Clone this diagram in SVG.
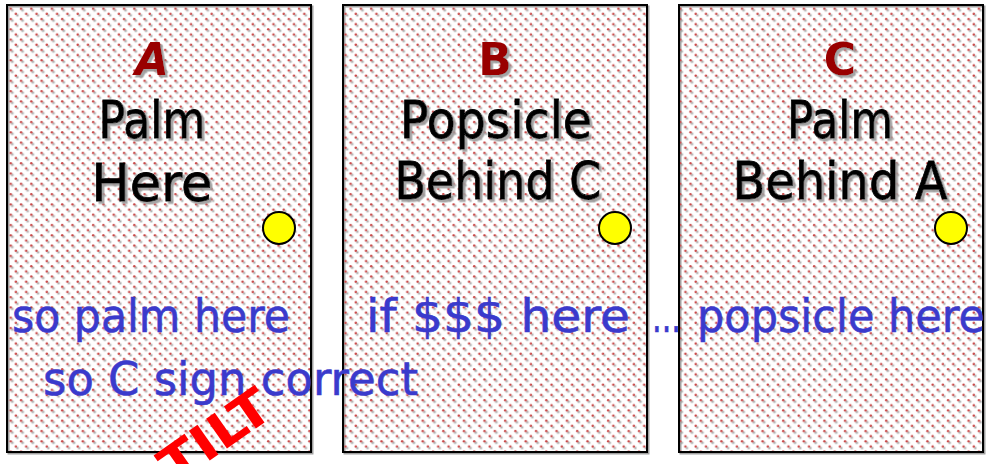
<svg xmlns="http://www.w3.org/2000/svg" width="989" height="464" viewBox="0 0 989 464">
  <defs>
    <pattern id="dots" x="3" y="1" width="10.3" height="10.3" patternUnits="userSpaceOnUse">
      <circle cx="2.6" cy="2.6" r="1.25" fill="#c84848"/>
      <circle cx="7.75" cy="7.75" r="1.25" fill="#c84848"/>
    </pattern>
    <filter id="shadow" x="-10%" y="-10%" width="130%" height="130%">
      <feDropShadow dx="2.5" dy="2.5" stdDeviation="0.6" flood-color="#9a9a9a" flood-opacity="0.9"/>
    </filter>
    <filter id="boxshadow" x="-5%" y="-5%" width="110%" height="110%">
      <feDropShadow dx="1.5" dy="1.5" stdDeviation="0.4" flood-color="#888" flood-opacity="0.8"/>
    </filter>
  </defs>
  <style>
    .panel { fill: url(#dots); stroke: #000; stroke-width: 2; }
    .title { font-family: "DejaVu Sans", "Liberation Sans", sans-serif; font-weight: bold; font-size: 44px; fill: #990000; text-anchor: middle; filter: url(#shadow); }
    .main { font-family: "DejaVu Sans", "Liberation Sans", sans-serif; font-size: 51px; fill: #000; text-anchor: middle; filter: url(#shadow); stroke: #000; stroke-width: 0.8; }
    .coin { fill: #ffff00; stroke: #000; stroke-width: 2; }
    .note { font-family: "DejaVu Sans", "Liberation Sans", sans-serif; font-size: 47px; fill: #3a3acc; stroke: #3a3acc; stroke-width: 0.6; }
    .tilt { font-family: "DejaVu Sans", "Liberation Sans", sans-serif; font-weight: bold; font-size: 50px; fill: #ff0000; text-anchor: middle; }
  </style>
  <rect width="989" height="464" fill="#ffffff"/>

  <g id="panel-A">
    <rect x="7" y="5" width="304" height="447" fill="#ffffff"/>
    <rect class="panel" x="7" y="5" width="304" height="447" filter="url(#boxshadow)"/>
    <text class="title" x="152" y="75" font-style="italic">A</text>
    <text class="main" x="152" y="138" textLength="107" lengthAdjust="spacingAndGlyphs">Palm</text>
    <text class="main" x="152" y="201" textLength="121" lengthAdjust="spacingAndGlyphs">Here</text>
    <circle class="coin" cx="279" cy="228" r="16"/>
  </g>

  <g id="panel-B">
    <rect class="panel" x="343" y="5" width="304" height="447" filter="url(#boxshadow)"/>
    <text class="title" x="495" y="75">B</text>
    <text class="main" x="496" y="138" textLength="192" lengthAdjust="spacingAndGlyphs">Popsicle</text>
    <text class="main" x="498" y="199" textLength="207" lengthAdjust="spacingAndGlyphs">Behind C</text>
    <circle class="coin" cx="615" cy="228" r="16"/>
  </g>

  <g id="panel-C">
    <rect class="panel" x="679" y="5" width="304" height="447" filter="url(#boxshadow)"/>
    <text class="title" x="840" y="75">C</text>
    <text class="main" x="840" y="138" textLength="106" lengthAdjust="spacingAndGlyphs">Palm</text>
    <text class="main" x="840" y="199" textLength="215" lengthAdjust="spacingAndGlyphs">Behind A</text>
    <circle class="coin" cx="951" cy="228" r="16"/>
  </g>

  <g id="notes">
    <text class="note" x="12" y="332" textLength="278" lengthAdjust="spacingAndGlyphs">so palm here</text>
    <text class="note" x="43" y="395" textLength="375" lengthAdjust="spacingAndGlyphs">so C sign correct</text>
    <text class="note" x="366" y="332" textLength="264" lengthAdjust="spacingAndGlyphs">if $$$ here</text>
    <text class="note" x="652" y="332" textLength="29" lengthAdjust="spacingAndGlyphs">...</text>
    <text class="note" x="697" y="332" textLength="288" lengthAdjust="spacingAndGlyphs">popsicle here</text>
  </g>

  <g id="tilt">
    <text class="tilt" transform="translate(225 450) rotate(-35)" textLength="124" lengthAdjust="spacingAndGlyphs">TILT</text>
  </g>
  <g id="connectors"/>
</svg>
